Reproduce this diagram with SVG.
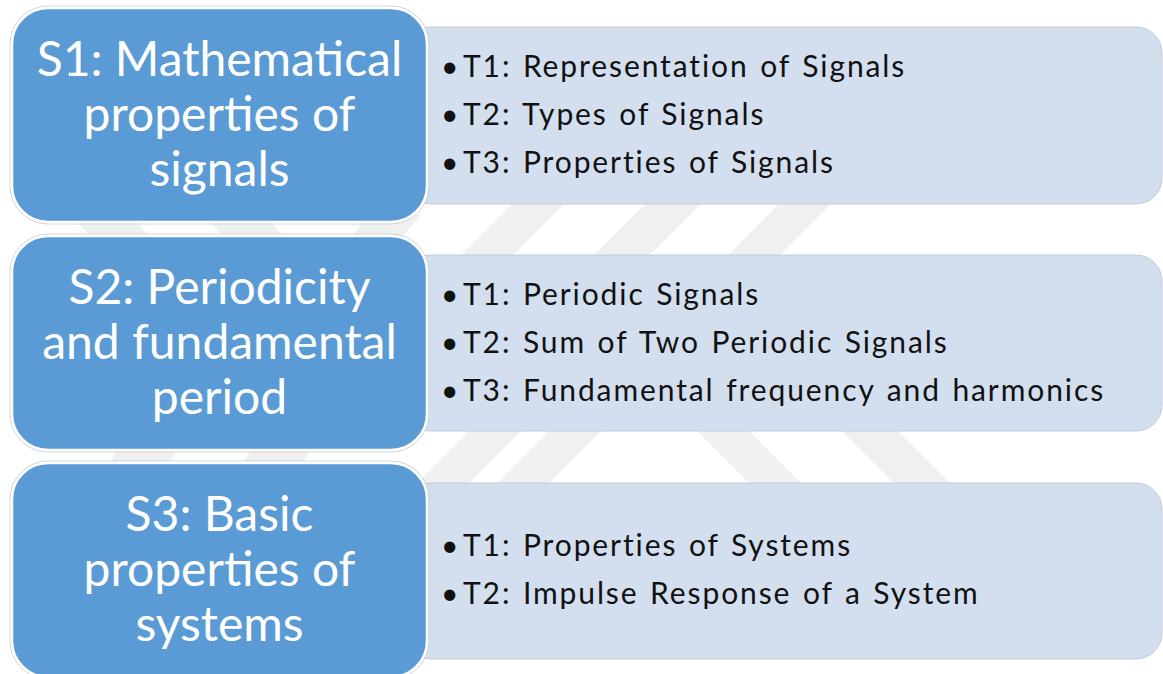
<svg xmlns="http://www.w3.org/2000/svg" width="1163" height="674" viewBox="0 0 1163 674">
<defs>
<style>
.wm{fill:#f0f0f0}
.sec{fill:#5b9bd5;stroke:#ffffff;stroke-width:2.5}
.secout{fill:none;stroke:#d0d4da;stroke-width:1}
.top{fill:#d3dfef;stroke:#c2ccd8;stroke-width:1}
.st{font-family:Lato,"Liberation Sans",sans-serif;font-size:48px;fill:#ffffff;text-anchor:middle}
.tt{font-family:Lato,"Liberation Sans",sans-serif;font-size:30px;fill:#111111;letter-spacing:1.9px;word-spacing:2px}
</style>
</defs>
<rect width="1163" height="674" fill="#ffffff"/>
<g id="watermark">
<polygon class="wm" points="521,195 573,195 503,265 451,265"/>
<polygon class="wm" points="654,195 710,195 640,265 584,265"/>
<polygon class="wm" points="788,195 840,195 770,265 718,265"/>
<polygon class="wm" points="72,215 131,215 156,245 97,245"/>
<polygon class="wm" points="205,215 265,215 290,245 230,245"/>
<polygon class="wm" points="370,215 421,215 395,245 344,245"/>
<polygon class="wm" points="558,422 610,422 536,496 484,496"/>
<polygon class="wm" points="478,422 530,422 456,496 404,496"/>
<polygon class="wm" points="688,422 740,422 814,496 762,496"/>
<polygon class="wm" points="833,422 889,422 963,496 907,496"/>
<polygon class="wm" points="121,444 181,444 166,468 106,468"/>
<polygon class="wm" points="255,444 314,444 299,468 240,468"/>
</g>
<g id="t1">
<rect class="top" x="405" y="27" width="757" height="177" rx="26"/>
<text class="tt"><tspan x="441" y="77">•</tspan><tspan x="463" y="77">T1: Representation of Signals</tspan></text>
<text class="tt"><tspan x="441" y="125">•</tspan><tspan x="463" y="125">T2: Types of Signals</tspan></text>
<text class="tt"><tspan x="441" y="173">•</tspan><tspan x="463" y="173">T3: Properties of Signals</tspan></text>
</g>
<g id="t2">
<rect class="top" x="405" y="255" width="757" height="176" rx="26"/>
<text class="tt"><tspan x="441" y="305">•</tspan><tspan x="463" y="305">T1: Periodic Signals</tspan></text>
<text class="tt"><tspan x="441" y="353">•</tspan><tspan x="463" y="353">T2: Sum of Two Periodic Signals</tspan></text>
<text class="tt"><tspan x="441" y="401">•</tspan><tspan x="463" y="401">T3: Fundamental frequency and harmonics</tspan></text>
</g>
<g id="t3">
<rect class="top" x="405" y="483" width="757" height="176" rx="26"/>
<text class="tt"><tspan x="441" y="556">•</tspan><tspan x="463" y="556">T1: Properties of Systems</tspan></text>
<text class="tt"><tspan x="441" y="604">•</tspan><tspan x="463" y="604">T2: Impulse Response of a System</tspan></text>
</g>
<g id="s1">
<rect class="secout" x="10" y="6" width="419" height="218" rx="38"/>
<rect class="sec" x="12" y="8" width="415" height="214" rx="36"/>
<text class="st" x="219.5" y="76">S1: Mathematical</text>
<text class="st" x="219.5" y="131">properties of</text>
<text class="st" x="219.5" y="186">signals</text>
</g>
<g id="s2">
<rect class="secout" x="10" y="234" width="419" height="218" rx="38"/>
<rect class="sec" x="12" y="236" width="415" height="214" rx="36"/>
<text class="st" x="219.5" y="304">S2: Periodicity</text>
<text class="st" x="219.5" y="359">and fundamental</text>
<text class="st" x="219.5" y="414">period</text>
</g>
<g id="s3">
<rect class="secout" x="10" y="461" width="419" height="218" rx="38"/>
<rect class="sec" x="12" y="463" width="415" height="214" rx="36"/>
<text class="st" x="219.5" y="531">S3: Basic</text>
<text class="st" x="219.5" y="586">properties of</text>
<text class="st" x="219.5" y="641">systems</text>
</g>
<g id="connectors"></g>
</svg>
